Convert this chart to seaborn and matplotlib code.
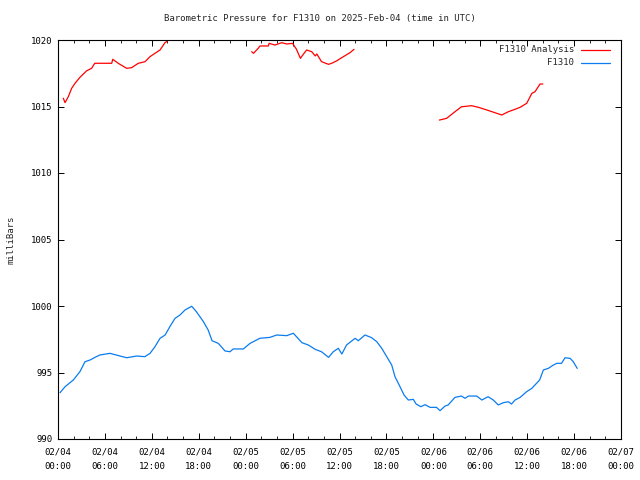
import matplotlib
matplotlib.use("Agg")
import matplotlib.pyplot as plt
import matplotlib.dates as mdates
import numpy as np
import pandas as pd
import seaborn as sns

# Station F1310, hours since 2025-02-04 00:00 UTC
START = pd.Timestamp("2025-02-04 00:00")

obs_hours = [0.26, 0.9, 1.96, 2.8, 3.45, 4.1, 4.73, 5.37, 6.65, 7.93, 8.78, 10.06,
             11.1, 11.77, 12.4, 13.05, 13.7, 14.3, 14.96, 15.6, 16.24, 17.1, 17.7,
             18.6, 19.2, 19.7, 20.5, 21.36, 22.0, 22.4, 23.7, 24.56, 25.8, 27.1,
             27.97, 29.25, 30.1, 30.5, 31.2, 32.0, 32.9, 33.7, 34.6, 35.2, 35.85,
             36.3, 36.9, 37.56, 38.0, 38.4, 39.26, 40.1, 40.76, 41.4, 42.04, 42.68,
             43.1, 43.74, 44.25, 44.8, 45.44, 45.8, 46.4, 46.94, 47.58, 48.4, 48.86,
             49.5, 49.9, 50.77, 51.6, 52.05, 52.5, 53.55, 54.2, 55.0, 55.67, 56.3,
             56.95, 57.6, 58.0, 58.45, 59.1, 59.94, 60.6, 61.2, 61.6, 62.07, 62.7,
             63.35, 63.8, 64.4, 64.84, 65.5, 65.9, 66.4]
obs_mb = [993.48, 993.93, 994.44, 995.06, 995.81, 995.94, 996.14, 996.32, 996.44,
          996.24, 996.11, 996.24, 996.19, 996.44, 996.94, 997.57, 997.82, 998.44,
          999.07, 999.32, 999.7, 999.98, 999.57, 998.82, 998.2, 997.39, 997.19,
          996.62, 996.56, 996.77, 996.77, 997.19, 997.57, 997.64, 997.82, 997.77,
          997.95, 997.69, 997.24, 997.07, 996.74, 996.56, 996.14, 996.56, 996.82,
          996.39, 997.07, 997.37, 997.57, 997.39, 997.82, 997.62, 997.32, 996.82,
          996.19, 995.56, 994.68, 993.93, 993.31, 992.93, 992.98, 992.63, 992.43,
          992.58, 992.38, 992.38, 992.13, 992.48, 992.56, 993.13, 993.23, 993.06,
          993.23, 993.23, 992.93, 993.18, 992.93, 992.56, 992.73, 992.8, 992.63,
          992.93, 993.13, 993.56, 993.81, 994.19, 994.44, 995.19, 995.31, 995.56,
          995.69, 995.69, 996.11, 996.06, 995.81, 995.31]

ana_hours = [0.68, 0.9, 1.32, 1.75, 2.17, 2.8, 3.67, 4.3, 4.7, 6.87, 7.0, 7.7, 8.78,
             9.42, 10.27, 11.13, 11.77, 12.53, 13.05, 13.68, 13.9, 14.3,
             24.77, 25.0, 25.6, 25.83, 26.9, 27.0, 27.75, 28.6, 29.25, 30.0, 30.5,
             31.0, 31.3, 31.8, 32.45, 32.9, 33.1, 33.7, 34.6, 35.0, 35.6, 36.7,
             37.35, 37.86,
             48.77, 49.7, 50.77, 51.6, 52.9, 53.76, 54.83, 55.9, 56.75, 57.6, 58.45,
             59.1, 59.94, 60.6, 61.0, 61.64, 62.0]
ana_mb = [1015.62, 1015.29, 1015.74, 1016.37, 1016.74, 1017.19, 1017.69, 1017.87,
          1018.25, 1018.25, 1018.55, 1018.25, 1017.87, 1017.92, 1018.25, 1018.37,
          1018.75, 1019.05, 1019.25, 1019.8, 1019.88, 1020.4,
          1019.12, 1019.0, 1019.37, 1019.55, 1019.55, 1019.75, 1019.62, 1019.8,
          1019.7, 1019.75, 1019.3, 1018.62, 1018.87, 1019.25, 1019.12, 1018.8,
          1018.95, 1018.37, 1018.17, 1018.25, 1018.42, 1018.82, 1019.05, 1019.3,
          1013.98, 1014.11, 1014.61, 1014.98, 1015.06, 1014.94, 1014.74, 1014.53,
          1014.36, 1014.61, 1014.79, 1014.94, 1015.24, 1015.99, 1016.11, 1016.69,
          1016.69]
ana_segment = [1] * 22 + [2] * 24 + [3] * 17

y_ticks = [990, 995, 1000, 1005, 1010, 1015, 1020]

sns.set_style("ticks")
plt.rcParams["font.family"] = ["DejaVu Sans Mono"]
plt.rcParams["font.size"] = 6.5

obs = pd.DataFrame({"time": START + pd.to_timedelta(obs_hours, unit="h"), "mb": obs_mb})
ana = pd.DataFrame({"time": START + pd.to_timedelta(ana_hours, unit="h"),
                    "mb": ana_mb, "seg": ana_segment})

fig = plt.figure(figsize=(6.4, 4.8), dpi=100)
ax = fig.add_axes([58 / 640, 1 - 439 / 480, (621 - 58) / 640, (439 - 40) / 480])

red = "#ff0000"
blue = "#0a7cf0"
sns.lineplot(data=ana, x="time", y="mb", units="seg", estimator=None,
             color=red, lw=0.9, ax=ax, legend=False)
sns.lineplot(data=obs, x="time", y="mb", estimator=None,
             color=blue, lw=0.9, ax=ax, legend=False)

ax.set_xlim(START, START + pd.Timedelta(hours=72))
ax.set_ylim(990, 1020)
ax.set_yticks(y_ticks)
ax.xaxis.set_major_locator(mdates.HourLocator(byhour=[0, 6, 12, 18]))
ax.xaxis.set_minor_locator(mdates.HourLocator(byhour=range(0, 24, 2)))
ax.xaxis.set_major_formatter(mdates.DateFormatter("%m/%d\n%H:%M"))
for lab in ax.get_xticklabels():
    lab.set_linespacing(1.75)

ax.tick_params(which="major", direction="in", length=4.5, width=0.7,
               top=True, right=True, labelsize=6.5, pad=6, colors="black")
ax.tick_params(which="minor", direction="in", length=2.5, width=0.7,
               top=True, right=False, left=False)
ax.tick_params(axis="y", which="major", pad=4)
for sp in ax.spines.values():
    sp.set_linewidth(0.8)
    sp.set_color("black")

ax.set_xlabel("")
ax.set_ylabel("milliBars", fontsize=6.5, labelpad=11)
fig.text(0.5, 1 - 19 / 480, "Barometric Pressure for F1310 on 2025-Feb-04 (time in UTC)",
         ha="center", va="center", fontsize=6.5)

# gnuplot-style key: text right aligned, sample line after it
for i, (name, col) in enumerate([("F1310 Analysis", red), ("F1310", blue)]):
    yk = 1 - (10 + 13 * i) / 399
    ax.text((574 - 58) / 563, yk, name, transform=ax.transAxes,
            ha="right", va="center", fontsize=6.5)
    ax.plot([(581 - 58) / 563, (610 - 58) / 563], [yk, yk], transform=ax.transAxes,
            color=col, lw=0.9, clip_on=False)

fig.savefig("out.png", dpi=100)
